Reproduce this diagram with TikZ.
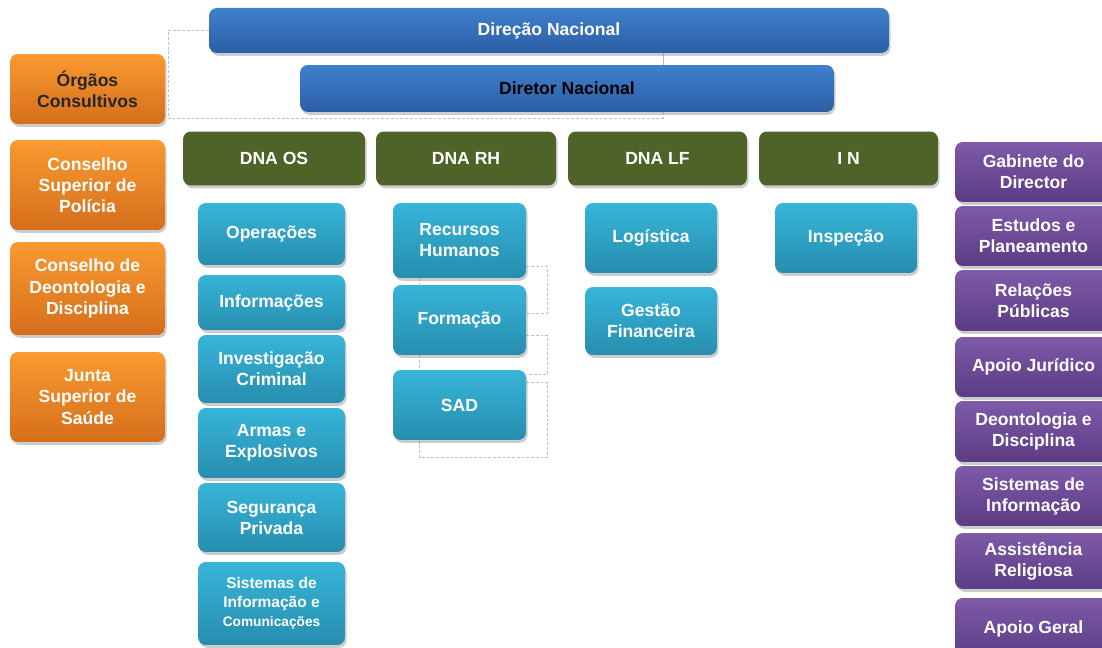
\documentclass[tikz,border=0pt]{standalone}
\usepackage{fontspec}
\setmainfont{Liberation Sans}
\usetikzlibrary{calc, positioning, shadows, backgrounds}

\definecolor{blueT}{HTML}{3F80CC}
\definecolor{blueB}{HTML}{2C5EA4}
\definecolor{orangeT}{HTML}{FA9A30}
\definecolor{orangeB}{HTML}{D56E1C}
\definecolor{oliveG}{HTML}{4F6228}
\definecolor{cyanT}{HTML}{37B5D9}
\definecolor{cyanB}{HTML}{278DAE}
\definecolor{purpleT}{HTML}{7E5AA9}
\definecolor{purpleB}{HTML}{5B3C84}

\begin{document}
\begin{tikzpicture}[
        x=0.02cm, y=-0.02cm,
        box/.style={rectangle, rounded corners=4.5pt, align=center, inner sep=1pt, text=white,
            font=\fontsize{10}{12}\selectfont\bfseries,
            drop shadow={shadow xshift=0.9pt, shadow yshift=-1.6pt, opacity=0.4}},
        nat/.style={box, top color=blueT, bottom color=blueB},
        cons/.style={box, top color=orangeT, bottom color=orangeB, minimum width=3.1cm},
        dna/.style={box, fill=oliveG, minimum height=1.08cm},
        serv/.style={box, top color=cyanT, bottom color=cyanB},
        gab/.style={box, top color=purpleT, bottom color=purpleB, minimum width=3.14cm},
        link/.style={gray!50, dash pattern=on 1.6pt off 1.1pt, line width=0.55pt}
    ]
    \clip (0,0) rectangle (1102,648);

    % Direção
    \node[nat, minimum width=13.6cm, minimum height=0.9cm] (dn) at (549,30.5) {Direção Nacional};
    \node[nat, text=black, minimum width=10.68cm, minimum height=0.94cm] (dir) at (567,88.5) {Diretor Nacional};

    % Órgãos consultivos
    \node[cons, text=black!85, minimum height=1.4cm] (orgc) at (87.5,89) {Órgãos\\Consultivos};
    \node[cons, minimum height=1.8cm] (csp) at (87.5,185) {Conselho\\Superior de\\Polícia};
    \node[cons, minimum height=1.86cm] (cdd) at (87.5,288.5) {Conselho de\\Deontologia e\\Disciplina};
    \node[cons, minimum height=1.8cm] (jss) at (87.5,397) {Junta\\Superior de\\Saúde};

    % Direções
    \node[dna, minimum width=3.64cm] (os) at (274,158.5) {DNA OS};
    \node[dna, minimum width=3.6cm] (rh) at (466,158.5) {DNA RH};
    \node[dna, minimum width=3.58cm] (lf) at (657.5,158.5) {DNA LF};
    \node[dna, minimum width=3.58cm] (in) at (848.5,158.5) {I N};

    % DNA OS
    \node[serv, minimum width=2.94cm, minimum height=1.24cm] (ope) at (271.5,234) {Operações};
    \node[serv, minimum width=2.94cm, minimum height=1.1cm] (inf) at (271.5,302.5) {Informações};
    \node[serv, minimum width=2.94cm, minimum height=1.36cm] (ic) at (271.5,369) {Investigação\\Criminal};
    \node[serv, minimum width=2.94cm, minimum height=1.4cm] (ae) at (271.5,443) {Armas e\\Explosivos};
    \node[serv, minimum width=2.94cm, minimum height=1.38cm] (sp) at (271.5,517.5) {Segurança\\Privada};
    \node[serv, minimum width=2.94cm, minimum height=1.66cm, font=\fontsize{8.8}{10.8}\selectfont\bfseries] (sic) at (271.5,603.5)
        {Sistemas de\\Informação e\\{\fontsize{7.8}{9}\selectfont Comunicações}};

    % DNA RH
    \node[serv, minimum width=2.66cm, minimum height=1.5cm] (rec) at (459.5,240.5) {Recursos\\Humanos};
    \node[serv, minimum width=2.66cm, minimum height=1.4cm] (for) at (459.5,320) {Formação};
    \node[serv, minimum width=2.66cm, minimum height=1.4cm] (sad) at (459.5,405) {SAD};

    % DNA LF e IN
    \node[serv, minimum width=2.64cm, minimum height=1.4cm] (log) at (651,238) {Logística};
    \node[serv, minimum width=2.64cm, minimum height=1.36cm] (gf) at (651,321) {Gestão\\Financeira};
    \node[serv, minimum width=2.84cm, minimum height=1.4cm] (ins) at (846,238) {Inspeção};

    % Gabinete
    \node[gab, minimum height=1.2cm] (gd) at (1033.5,172) {Gabinete do\\Director};
    \node[gab, minimum height=1.2cm] (ep) at (1033.5,236) {Estudos e\\Planeamento};
    \node[gab, minimum height=1.22cm] (rp) at (1033.5,300.5) {Relações\\Públicas};
    \node[gab, minimum height=1.2cm] (aj) at (1033.5,367) {Apoio Jurídico};
    \node[gab, minimum height=1.22cm] (dd) at (1033.5,431.5) {Deontologia e\\Disciplina};
    \node[gab, minimum height=1.2cm] (si) at (1033.5,496) {Sistemas de\\Informação};
    \node[gab, minimum height=1.12cm] (ar) at (1033.5,561) {Assistência\\Religiosa};
    \node[gab, minimum height=1.24cm] (ag) at (1033.5,629) {Apoio Geral};

    % ligações
    \begin{scope}[on background layer]
        \coordinate (jl) at (168,118);
        \coordinate (jr) at (663,118);
        \draw[link] (dn.west) -| (jl) -- (jr) -- (dir.south -| jr);
        \draw[gray!55, line width=0.5pt] (dn.south -| jr) -- (dir.north -| jr);

        \draw[link] ($(rec.south east)+(0,-12)$) -| ($(for.east)+(21,-7)$) -- ($(for.east)+(0,-7)$);
        \draw[link] ($(for.south east)+(0,-20)$) -| ($(sad.north east)+(21,5)$) -- ($(sad.north east)+(0,5)$);
        \draw[link] ($(sad.north east)+(0,13)$) -| ($(sad.south east)+(21,17)$) -| ($(sad.south west)+(27,0)$);
        \draw[link] ($(rec.south west)+(27,0)$) -- ($(for.north west)+(27,0)$);
        \draw[link] ($(for.south west)+(27,0)$) -- ($(sad.north west)+(27,0)$);
    \end{scope}

\end{tikzpicture}
\end{document}
